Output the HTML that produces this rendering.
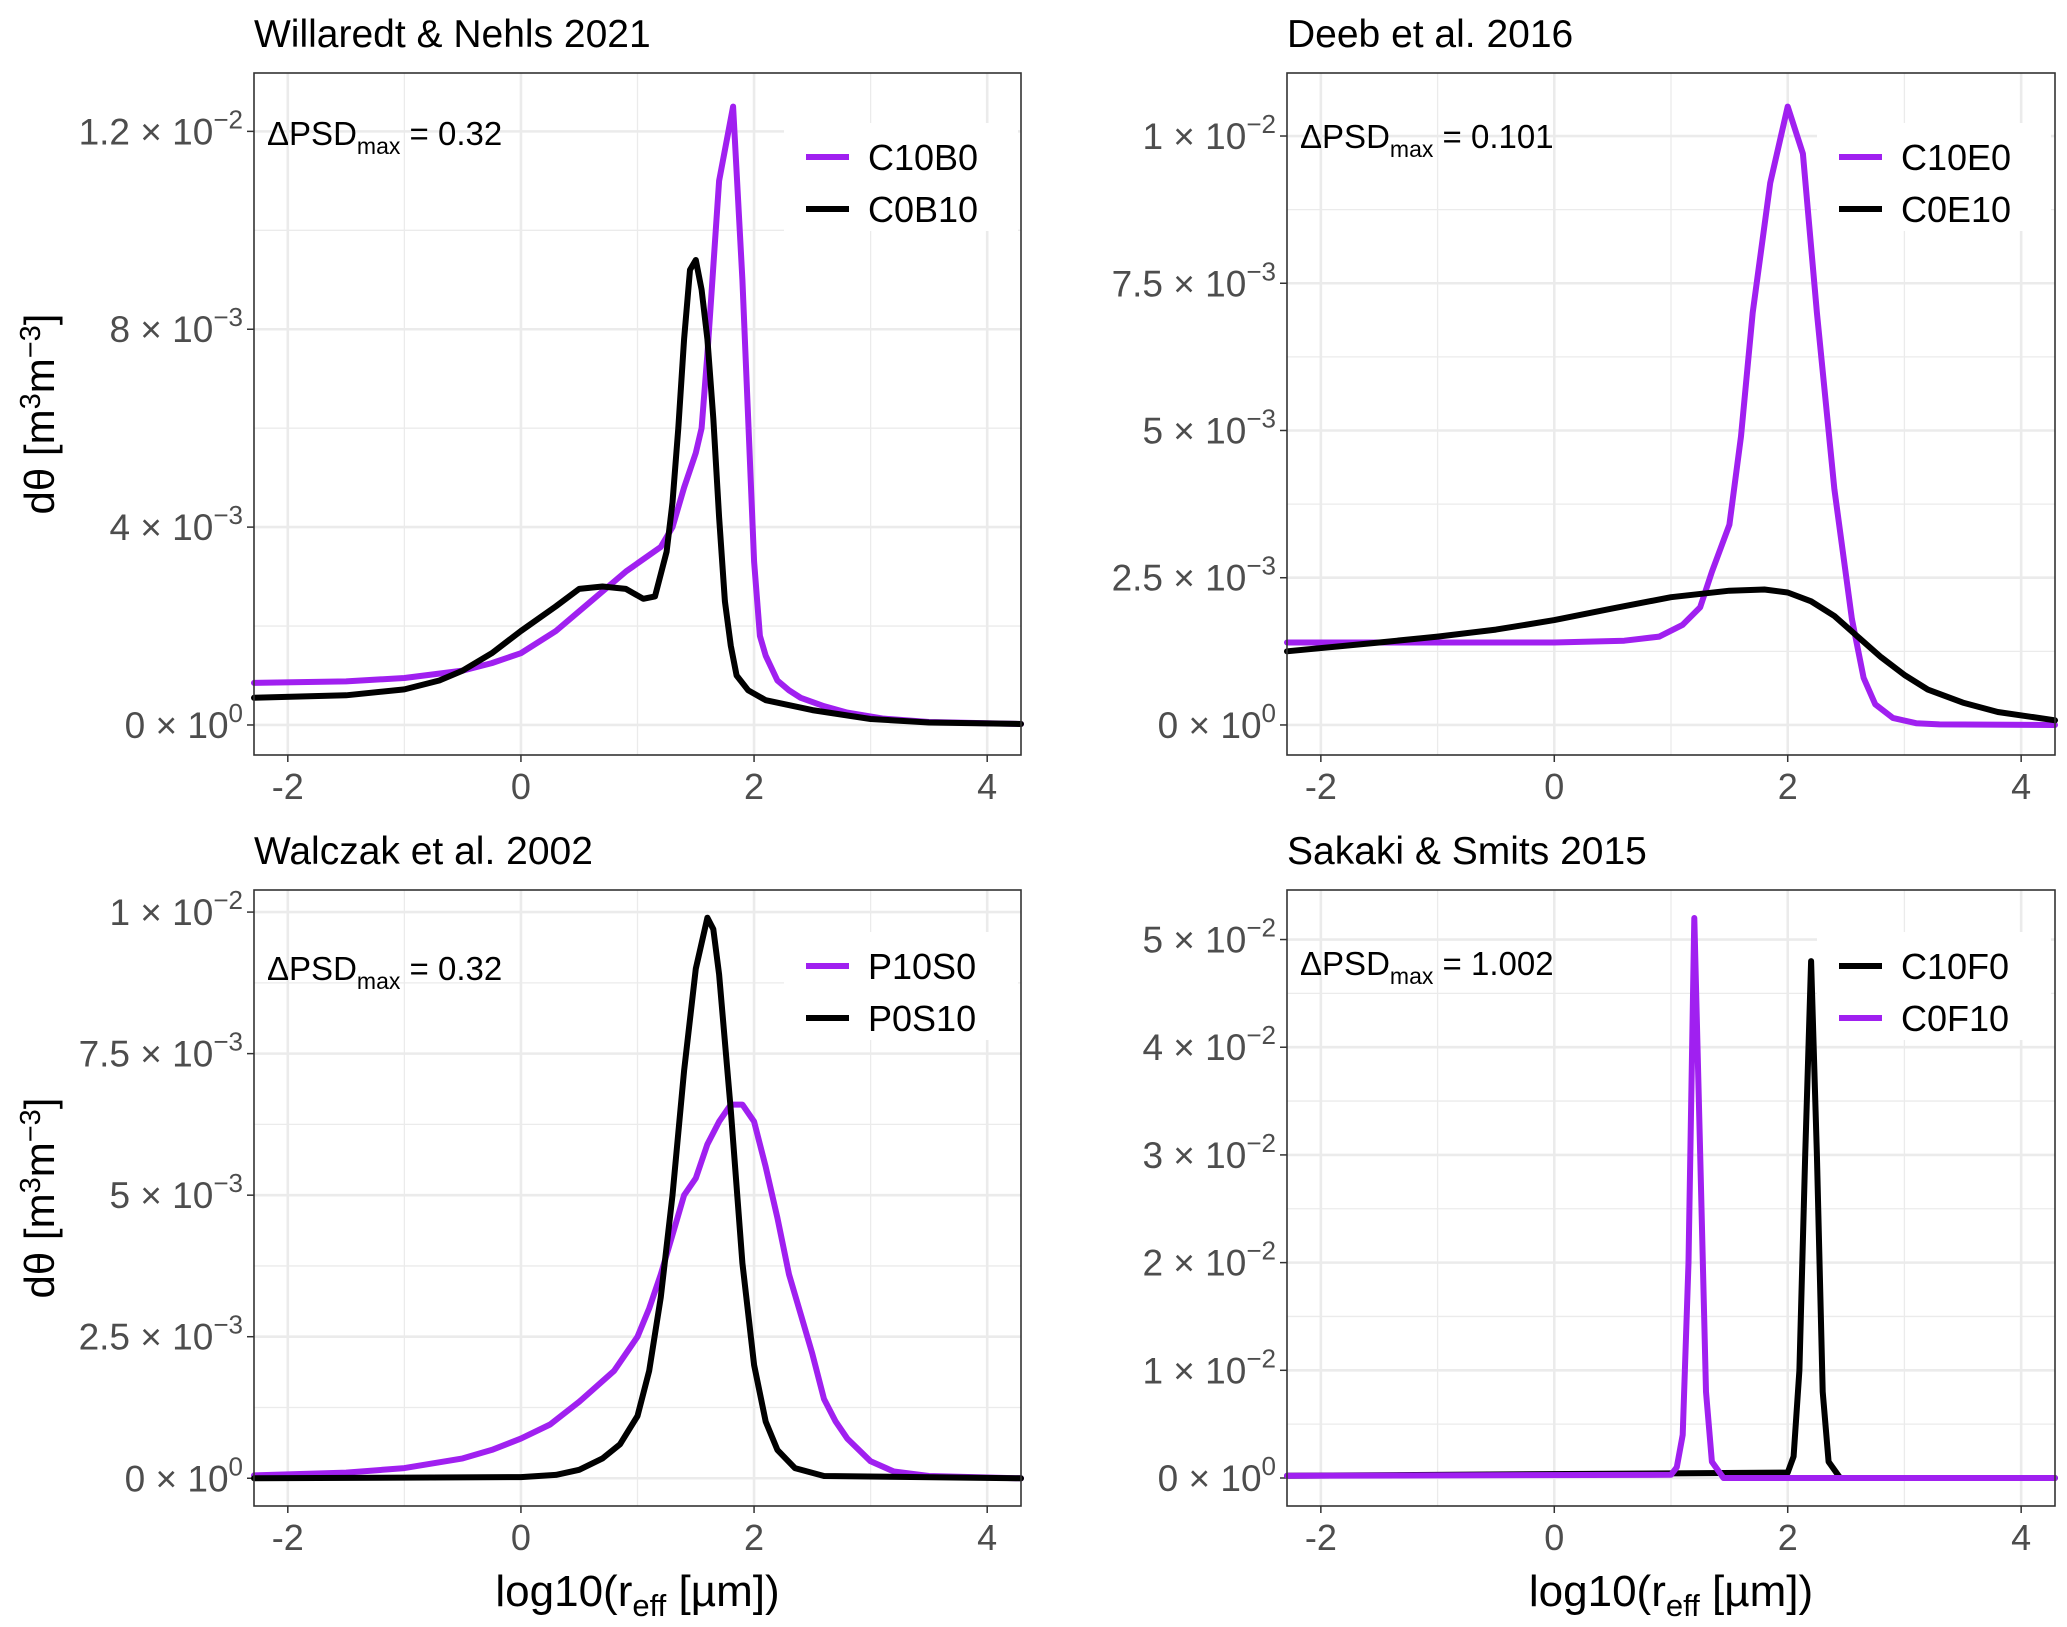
<!DOCTYPE html>
<html><head><meta charset="utf-8">
<style>
html,body{margin:0;padding:0;background:#fff;}
svg{display:block;font-family:"Liberation Sans",sans-serif;}
</style></head>
<body>
<svg id="fig" width="2067" height="1627" viewBox="0 0 2067 1627" xmlns="http://www.w3.org/2000/svg">
<rect x="0" y="0" width="2067" height="1627" fill="#fff"/>
</svg>
<script>
// ---- data (y values in units of 1e-3 m3m-3) ----
const p1C10B0x = [-2.29,-1.5,-1,-0.5,-0.25,0,0.3,0.6,0.9,1.2,1.3,1.4,1.5,1.55,1.6,1.7,1.82,1.9,2.0,2.05,2.1,2.2,2.3,2.4,2.6,2.8,3.1,3.5,4.29];
const p1C10B0y = [0.85,0.88,0.95,1.1,1.25,1.45,1.9,2.5,3.1,3.6,4.0,4.8,5.5,6.0,7.5,11.0,12.5,9.0,3.3,1.8,1.4,0.9,0.7,0.55,0.38,0.25,0.13,0.06,0.02];
const p1C0B10x = [-2.29,-1.5,-1,-0.7,-0.5,-0.25,0,0.3,0.5,0.7,0.9,1.05,1.15,1.25,1.3,1.35,1.4,1.45,1.5,1.55,1.6,1.65,1.7,1.75,1.8,1.85,1.95,2.1,2.5,3.0,3.5,4.29];
const p1C0B10y = [0.55,0.6,0.72,0.9,1.1,1.45,1.9,2.4,2.75,2.8,2.75,2.55,2.6,3.5,4.5,6.0,7.8,9.2,9.4,8.8,7.8,6.2,4.2,2.5,1.6,1.0,0.7,0.5,0.3,0.12,0.05,0.02];
const p2C10E0x = [-2.29,0,0.6,0.9,1.1,1.25,1.35,1.5,1.6,1.7,1.85,2.0,2.13,2.25,2.4,2.55,2.65,2.75,2.9,3.1,3.3,4.29];
const p2C10E0y = [1.4,1.4,1.43,1.5,1.7,2.0,2.6,3.4,4.9,7.0,9.2,10.5,9.7,7.0,4.0,1.8,0.8,0.35,0.12,0.03,0.01,0];
const p2C0E10x = [-2.29,-1.5,-1,-0.5,0,0.5,1.0,1.5,1.8,2.0,2.2,2.4,2.6,2.8,3.0,3.2,3.5,3.8,4.29];
const p2C0E10y = [1.25,1.4,1.5,1.62,1.78,1.98,2.17,2.28,2.3,2.25,2.1,1.85,1.5,1.15,0.85,0.6,0.38,0.22,0.08];
const p3P10S0x = [-2.29,-1.5,-1,-0.5,-0.25,0,0.25,0.5,0.8,1.0,1.1,1.2,1.3,1.4,1.5,1.6,1.7,1.8,1.9,2.0,2.1,2.2,2.3,2.4,2.5,2.6,2.7,2.8,3.0,3.2,3.5,4.29];
const p3P10S0y = [0.05,0.1,0.18,0.35,0.5,0.7,0.95,1.35,1.9,2.5,3.0,3.6,4.3,5.0,5.3,5.9,6.3,6.6,6.6,6.3,5.5,4.6,3.6,2.9,2.2,1.4,1.0,0.7,0.3,0.12,0.04,0];
const p3P0S10x = [-2.29,0,0.3,0.5,0.7,0.85,1.0,1.1,1.2,1.3,1.4,1.5,1.6,1.65,1.7,1.8,1.9,2.0,2.1,2.2,2.35,2.6,4.29];
const p3P0S10y = [0,0.02,0.06,0.15,0.35,0.6,1.1,1.9,3.2,5.0,7.2,9.0,9.9,9.7,8.9,6.5,3.8,2.0,1.0,0.5,0.18,0.04,0];
const p4C10F0x = [-2.29,2.0,2.05,2.1,2.15,2.2,2.25,2.3,2.35,2.45,4.29];
const p4C10F0y = [0.2,0.5,2,10,30,48,30,8,1.5,0,0];
const p4C0F10x = [-2.29,1.0,1.05,1.1,1.15,1.2,1.25,1.3,1.35,1.45,4.29];
const p4C0F10y = [0.2,0.3,1,4,20,52,30,8,1.5,0,0];
const xTicks = [-2,0,2,4];
const xTickLabels = ["-2","0","2","4"];
const p1Ticks = [0,4,8,12];
const p1Labels = [["0","0"],["4","−3"],["8","−3"],["1.2","−2"]];
const p2Ticks = [0,2.5,5,7.5,10];
const p2Labels = [["0","0"],["2.5","−3"],["5","−3"],["7.5","−3"],["1","−2"]];
const p3Ticks = [0,2.5,5,7.5,10];
const p3Labels = [["0","0"],["2.5","−3"],["5","−3"],["7.5","−3"],["1","−2"]];
const p4Ticks = [0,10,20,30,40,50];
const p4Labels = [["0","0"],["1","−2"],["2","−2"],["3","−2"],["4","−2"],["5","−2"]];

const NS = "http://www.w3.org/2000/svg";
const svg = document.getElementById('fig');
const PURPLE = "#A020F0";
function mk(tag, attrs, parent){
  const e = document.createElementNS(NS, tag);
  for (const k in attrs) e.setAttribute(k, attrs[k]);
  (parent||svg).appendChild(e);
  return e;
}
const XMIN=-2.29, XMAX=4.29;

function panel(cfg){
  const g = mk('g', {});
  
  
  const L=cfg.l, R=cfg.r, T=cfg.t, B=cfg.b;
  const sx = v => L + (v - XMIN) / (XMAX - XMIN) * (R - L);
  const sy = v => B - (v - cfg.ymin) / (cfg.ymax - cfg.ymin) * (B - T);
  for (let i=0;i<xTicks.length-1;i++){
    const m=(xTicks[i]+xTicks[i+1])/2;
    const gl=mk('line',{x1:sx(m),x2:sx(m),y1:T,y2:B,stroke:'#ebebeb','stroke-width':1.3},g);
    
    
  }
  for (let i=0;i<cfg.ticks.length-1;i++){
    const m=(cfg.ticks[i]+cfg.ticks[i+1])/2;
    const gl=mk('line',{x1:L,x2:R,y1:sy(m),y2:sy(m),stroke:'#ebebeb','stroke-width':1.3},g);
    
    
  }
  const m2=cfg.ticks[cfg.ticks.length-1]+(cfg.ticks[1]-cfg.ticks[0])/2;
  if (m2<cfg.ymax){
    const gl=mk('line',{x1:L,x2:R,y1:sy(m2),y2:sy(m2),stroke:'#ebebeb','stroke-width':1.3},g);
    
    
  }
  xTicks.forEach((v,i)=>{
    const gl=mk('line',{x1:sx(v),x2:sx(v),y1:T,y2:B,stroke:'#ebebeb','stroke-width':2.6},g);
    
    
    const tk=mk('line',{x1:sx(v),x2:sx(v),y1:B,y2:B+7,stroke:'#333','stroke-width':1.5},g);
    
    
    const tl=mk('text',{x:sx(v),y:B+44,'text-anchor':'middle','font-size':36,fill:'#4d4d4d'},g);
    tl.textContent=xTickLabels[i];
    
    
  });
  cfg.ticks.forEach((v,i)=>{
    const gl=mk('line',{x1:L,x2:R,y1:sy(v),y2:sy(v),stroke:'#ebebeb','stroke-width':2.6},g);
    
    
    const tk=mk('line',{x1:L-7,x2:L,y1:sy(v),y2:sy(v),stroke:'#333','stroke-width':1.5},g);
    
    
    const tl=mk('text',{x:L-11,y:sy(v)+13,'text-anchor':'end','font-size':37,fill:'#4d4d4d'},g);
    
    
    const a=document.createElementNS(NS,'tspan'); a.textContent=cfg.labels[i][0]+' × 10'; tl.appendChild(a);
    const b=document.createElementNS(NS,'tspan'); b.setAttribute('dy','-16'); b.setAttribute('font-size','26'); b.textContent=cfg.labels[i][1]; tl.appendChild(b);
  });
  const lb=mk('rect',{x:L+530,y:T+(cfg.legOff||0)+50,width:234,height:108,fill:'#fff'},g);
  
  
  cfg.series.forEach((s)=>{
    let d='';
    s.x.forEach((xv,j)=>{ d += (j?'L':'M') + sx(xv).toFixed(1) + ',' + sy(s.y[j]).toFixed(1); });
    const p=mk('path',{d:d,fill:'none',stroke:s.color,'stroke-width':6,'stroke-linejoin':'round','stroke-linecap':'round'},g);
    
    
  });
  const br=mk('rect',{x:L,y:T,width:R-L,height:B-T,fill:'none',stroke:'#333','stroke-width':1.6},g);
  
  
  cfg.legend.forEach((s,i)=>{
    const cy=T+(cfg.legOff||0)+84+i*52;
    const ln=mk('line',{x1:L+552,x2:L+595,y1:cy,y2:cy,stroke:s.color,'stroke-width':6},g);
    
    
    const t=mk('text',{x:L+614,y:cy+13,'font-size':36,fill:'#000'},g);
    t.textContent=s.label;
    
    
  });
  const tt=mk('text',{x:L,y:T-26,'font-size':39,fill:'#000'},g);
  tt.textContent=cfg.title;
  
  
  const an=mk('text',{x:L+13,y:cfg.annY,'font-size':33,fill:'#000'},g);
  
  
  const a1=document.createElementNS(NS,'tspan'); a1.textContent='ΔPSD'; an.appendChild(a1);
  const a2=document.createElementNS(NS,'tspan'); a2.setAttribute('dy','9'); a2.setAttribute('font-size','23'); a2.textContent='max'; an.appendChild(a2);
  const a3=document.createElementNS(NS,'tspan'); a3.setAttribute('dy','-9'); a3.textContent=cfg.ann; an.appendChild(a3);
  if (cfg.ytitle){
    const cy=(T+B)/2;
    const yt=mk('text',{x:0,y:0,'font-size':42,fill:'#000','text-anchor':'middle',transform:'translate(54,'+cy+') rotate(-90)'},g);
    
    
    const q1=document.createElementNS(NS,'tspan'); q1.textContent='dθ [m'; yt.appendChild(q1);
    const q2=document.createElementNS(NS,'tspan'); q2.setAttribute('dy','-14'); q2.setAttribute('font-size','29'); q2.textContent='3'; yt.appendChild(q2);
    const q3=document.createElementNS(NS,'tspan'); q3.setAttribute('dy','14'); q3.textContent='m'; yt.appendChild(q3);
    const q4=document.createElementNS(NS,'tspan'); q4.setAttribute('dy','-14'); q4.setAttribute('font-size','29'); q4.textContent='−3'; yt.appendChild(q4);
    const q5=document.createElementNS(NS,'tspan'); q5.setAttribute('dy','14'); q5.textContent=']'; yt.appendChild(q5);
  }
  if (cfg.xtitle){
    const xt=mk('text',{x:(L+R)/2,y:1606,'font-size':44,fill:'#000','text-anchor':'middle'},g);
    
    
    const r1=document.createElementNS(NS,'tspan'); r1.textContent='log10(r'; xt.appendChild(r1);
    const r2=document.createElementNS(NS,'tspan'); r2.setAttribute('dy','10'); r2.setAttribute('font-size','31'); r2.textContent='eff'; xt.appendChild(r2);
    const r3=document.createElementNS(NS,'tspan'); r3.setAttribute('dy','-10'); r3.textContent=' [µm])'; xt.appendChild(r3);
  }
}

panel({name:'panel-willaredt-nehls-2021',title:'Willaredt & Nehls 2021',l:254,r:1021,t:73,b:755,ymin:-0.607,ymax:13.18,
  ticks:p1Ticks,labels:p1Labels,annY:145,ann:' = 0.32',ytitle:true,
  series:[{x:p1C10B0x,y:p1C10B0y,color:PURPLE,label:'C10B0'},{x:p1C0B10x,y:p1C0B10y,color:'#000',label:'C0B10'}],
  legend:[{color:PURPLE,label:'C10B0'},{color:'#000',label:'C0B10'}]});
panel({name:'panel-deeb-2016',title:'Deeb et al. 2016',l:1287,r:2055,t:73,b:755,ymin:-0.51,ymax:11.07,
  ticks:p2Ticks,labels:p2Labels,annY:148,ann:' = 0.101',
  series:[{x:p2C10E0x,y:p2C10E0y,color:PURPLE,label:'C10E0'},{x:p2C0E10x,y:p2C0E10y,color:'#000',label:'C0E10'}],
  legend:[{color:PURPLE,label:'C10E0'},{color:'#000',label:'C0E10'}]});
panel({name:'panel-walczak-2002',title:'Walczak et al. 2002',l:254,r:1021,t:890,b:1506,ymin:-0.49,ymax:10.39,
  ticks:p3Ticks,labels:p3Labels,annY:980,ann:'  = 0.32',ytitle:true,xtitle:true,legOff:-8,
  series:[{x:p3P10S0x,y:p3P10S0y,color:PURPLE,label:'P10S0'},{x:p3P0S10x,y:p3P0S10y,color:'#000',label:'P0S10'}],
  legend:[{color:PURPLE,label:'P10S0'},{color:'#000',label:'P0S10'}]});
panel({name:'panel-sakaki-smits-2015',title:'Sakaki & Smits 2015',l:1287,r:2055,t:890,b:1506,ymin:-2.6,ymax:54.6,
  ticks:p4Ticks,labels:p4Labels,annY:975,ann:' = 1.002',xtitle:true,legOff:-8,
  series:[{x:p4C10F0x,y:p4C10F0y,color:'#000',label:'C10F0'},{x:p4C0F10x,y:p4C0F10y,color:PURPLE,label:'C0F10'}],
  legend:[{color:'#000',label:'C10F0'},{color:PURPLE,label:'C0F10'}]});
</script>
</body></html>
